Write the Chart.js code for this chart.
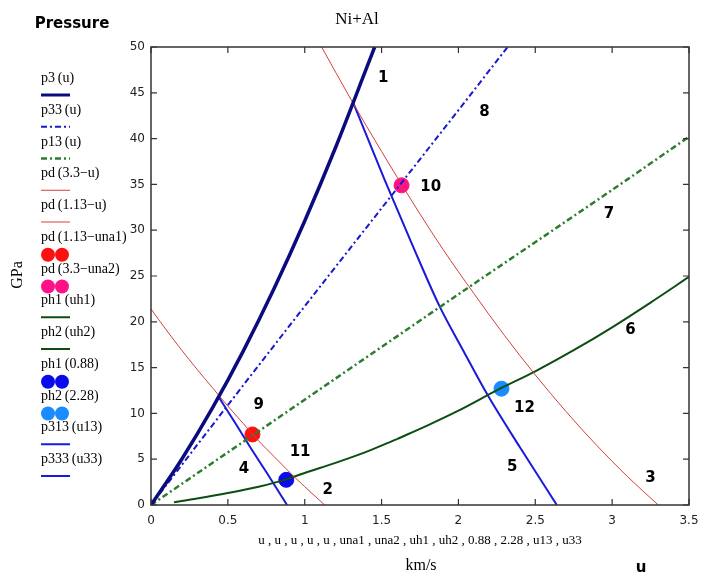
<!DOCTYPE html>
<html>
<head>
<meta charset="utf-8">
<script src="https://cdn.jsdelivr.net/npm/chart.js@4/dist/chart.umd.min.js"></script>
<style>
  html, body { margin: 0; padding: 0; background: #fff; }
  #wrap { width: 701px; height: 574px; position: relative; }
</style>
</head>
<body>
<div id="wrap"><canvas id="chart"></canvas></div>
<script>
// values (u in km/s, p in GPa)
const uP3 = [0, 0.2, 0.4, 0.6, 0.8, 1.0, 1.2, 1.4, 1.455];
const pP3 = [0, 5.0, 10.6, 16.8, 23.6, 31.0, 39.0, 47.6, 50];

const uP33 = [0, 0.5, 1.0, 1.5, 2.0, 2.32];
const pP33 = [0, 10.9, 21.7, 32.4, 43.1, 50];

const uP13 = [0, 1, 2, 3, 3.5];
const pP13 = [0, 11.5, 23, 34.4, 40.2];

const uPd33 = [1.11, 1.3, 1.5, 1.7, 1.9, 2.1, 2.3, 2.5, 2.7, 2.9, 3.1, 3.3];
const pPd33 = [50, 44.3, 38.6, 33.1, 27.9, 23.1, 18.5, 14.2, 10.2, 6.5, 3.1, 0];

const uPd113 = [0, 0.1, 0.2, 0.3, 0.4, 0.5, 0.6, 0.7, 0.8, 0.9, 1.0, 1.13];
const pPd113 = [21.4, 19.1, 16.9, 14.8, 12.8, 10.8, 8.9, 7.0, 5.3, 3.6, 2.0, 0];

const uPh1 = [0.15, 0.3, 0.5, 0.7, 0.88, 1.0, 1.2, 1.4, 1.6];
const pPh1 = [0.3, 0.7, 1.3, 2.0, 2.8, 3.5, 4.6, 5.8, 7.2];

const uPh2 = [1.6, 1.8, 2.0, 2.27, 2.5, 2.75, 3.0, 3.25, 3.5];
const pPh2 = [7.2, 8.7, 10.3, 12.7, 14.6, 16.9, 19.4, 22.1, 24.9];

const u13 = [0.44, 0.55, 0.65, 0.75, 0.885];
const p313 = [11.8, 8.9, 6.2, 3.6, 0];

const u33 = [1.316, 1.52, 1.7, 1.88, 2.03, 2.19, 2.4, 2.64];
const p333 = [43.9, 35.5, 28.4, 21.6, 16.9, 12.0, 6.3, 0];

const una1 = [0.66], pUna1 = [7.7];
const una2 = [1.63], pUna2 = [34.9];
const uDot1 = [0.88], pDot1 = [2.75];
const uDot2 = [2.28], pDot2 = [12.7];

// curve number labels
const noteText = ["1", "2", "3", "4", "5", "6", "7", "8", "9", "10", "11", "12"];
const noteU = [1.51, 1.15, 3.25, 0.605, 2.35, 3.12, 2.98, 2.17, 0.70, 1.82, 0.97, 2.43];
const noteP = [46.6, 1.6, 2.9, 3.9, 4.1, 19.1, 31.8, 42.9, 10.9, 34.7, 5.8, 10.6];

const xTicks = [0, 0.5, 1, 1.5, 2, 2.5, 3, 3.5];
const yTicks = [0, 5, 10, 15, 20, 25, 30, 35, 40, 45, 50];

function pts(xs, ys) {
  return xs.map((x, i) => ({ x: x, y: ys[i] }));
}

const dashDot = [6, 3, 2, 3];

function line(label, xs, ys, color, width, dash) {
  return {
    label: label,
    data: pts(xs, ys),
    showLine: true,
    borderColor: color,
    borderWidth: width,
    borderDash: dash || [],
    pointRadius: 0,
    cubicInterpolationMode: "monotone",
    fill: false,
  };
}

function dot(label, xs, ys, color) {
  return {
    label: label,
    data: pts(xs, ys),
    showLine: false,
    backgroundColor: color,
    borderColor: color,
    pointRadius: 7.5,
    pointHoverRadius: 7.5,
  };
}

const datasets = [
  line("p3\u2009(u)", uP3, pP3, "#0b0b7e", 3.5),
  line("p33\u2009(u)", uP33, pP33, "#1818cc", 2, dashDot),
  line("p13\u2009(u)", uP13, pP13, "#2e7d2e", 2.5, dashDot),
  line("pd\u2009(3.3\u2212u)", uPd33, pPd33, "#d04040", 1),
  line("pd\u2009(1.13\u2212u)", uPd113, pPd113, "#d04040", 1),
  dot("pd\u2009(1.13\u2212una1)", una1, pUna1, "#ff1010"),
  dot("pd\u2009(3.3\u2212una2)", una2, pUna2, "#ff1188"),
  line("ph1\u2009(uh1)", uPh1, pPh1, "#0d4d12", 2),
  line("ph2\u2009(uh2)", uPh2, pPh2, "#0d4d12", 2),
  dot("ph1\u2009(0.88)", uDot1, pDot1, "#0a0aee"),
  dot("ph2\u2009(2.28)", uDot2, pDot2, "#1a8cff"),
  line("p313\u2009(u13)", u13, p313, "#1a1ad8", 2),
  line("p333\u2009(u33)", u33, p333, "#1a1ad8", 2),
];

// frame, inward ticks, legend and loose texts
const decor = {
  id: "decor",
  afterDraw(chart) {
    const ctx = chart.ctx;
    const a = chart.chartArea;
    const xs = chart.scales.x, ys = chart.scales.y;
    ctx.save();

    ctx.strokeStyle = "#333";
    ctx.lineWidth = 1.5;
    ctx.strokeRect(a.left, a.top, a.right - a.left, a.bottom - a.top);

    ctx.lineWidth = 1.2;
    ctx.beginPath();
    xTicks.forEach(v => {
      const x = xs.getPixelForValue(v);
      ctx.moveTo(x, a.top); ctx.lineTo(x, a.top + 6);
      ctx.moveTo(x, a.bottom); ctx.lineTo(x, a.bottom - 6);
    });
    yTicks.forEach(v => {
      const y = ys.getPixelForValue(v);
      ctx.moveTo(a.left, y); ctx.lineTo(a.left + 6, y);
      ctx.moveTo(a.right, y); ctx.lineTo(a.right - 6, y);
    });
    ctx.stroke();

    // curve numbers
    ctx.fillStyle = "#000";
    ctx.font = "bold 15px 'DejaVu Sans'";
    ctx.textAlign = "center";
    ctx.textBaseline = "middle";
    noteText.forEach((t, i) => {
      ctx.fillText(t, xs.getPixelForValue(noteU[i]), ys.getPixelForValue(noteP[i]));
    });

    // title and axis texts
    ctx.font = "17px 'Liberation Serif'";
    ctx.fillText("Ni+Al", 357, 20);
    ctx.font = "bold 15px 'DejaVu Sans'";
    ctx.fillText("Pressure", 72, 24);
    ctx.font = "13px 'Liberation Serif'";
    ctx.fillText("u , u , u , u , u , una1 , una2 , uh1 , uh2 , 0.88 , 2.28 , u13 , u33", 420, 541);
    ctx.font = "16px 'Liberation Serif'";
    ctx.fillText("km/s", 421, 566);
    ctx.font = "bold 15px 'DejaVu Sans'";
    ctx.fillText("u", 641, 568);

    ctx.save();
    ctx.translate(18, 275);
    ctx.rotate(-Math.PI / 2);
    ctx.font = "16px 'Liberation Serif'";
    ctx.fillText("GPa", 0, 0);
    ctx.restore();

    // legend
    ctx.textAlign = "left";
    ctx.textBaseline = "alphabetic";
    chart.data.datasets.forEach((ds, i) => {
      const ty = 82 + i * 31.75;
      ctx.font = "14px 'Liberation Serif'";
      ctx.fillStyle = "#000";
      ctx.fillText(ds.label, 41, ty);
      const sy = ty + 13;
      if (ds.showLine) {
        ctx.strokeStyle = ds.borderColor;
        ctx.lineWidth = Math.min(ds.borderWidth, 3);
        ctx.setLineDash(ds.borderDash);
        ctx.beginPath();
        ctx.moveTo(41, sy); ctx.lineTo(70, sy);
        ctx.stroke();
        ctx.setLineDash([]);
      } else {
        ctx.fillStyle = ds.backgroundColor;
        [48, 62].forEach(cx => {
          ctx.beginPath();
          ctx.arc(cx, sy + 1, 7, 0, Math.PI * 2);
          ctx.fill();
        });
      }
    });

    ctx.restore();
  },
};

new Chart(document.getElementById("chart"), {
  type: "scatter",
  data: { datasets: datasets },
  options: {
    responsive: true,
    maintainAspectRatio: false,
    animation: false,
    layout: { padding: { left: 0, top: 47, right: 12, bottom: 0 } },
    plugins: { legend: { display: false }, tooltip: { enabled: false } },
    scales: {
      x: {
        type: "linear",
        min: 0,
        max: 3.5,
        afterFit: s => { s.height = 69; s.paddingLeft = 0; s.paddingRight = 0; },
        afterBuildTicks: s => { s.ticks = xTicks.map(v => ({ value: v })); },
        grid: { display: false, drawTicks: false },
        border: { display: false },
        ticks: {
          padding: 9,
          color: "#222",
          font: { family: "DejaVu Sans", size: 12 },
          maxRotation: 0,
          callback: v => String(v),
        },
      },
      y: {
        type: "linear",
        min: 0,
        max: 50,
        afterFit: s => { s.width = 151; s.paddingTop = 0; s.paddingBottom = 0; },
        afterBuildTicks: s => { s.ticks = yTicks.map(v => ({ value: v })); },
        grid: { display: false, drawTicks: false },
        border: { display: false },
        ticks: {
          padding: 6,
          color: "#222",
          font: { family: "DejaVu Sans", size: 12 },
        },
      },
    },
  },
  plugins: [decor],
});
</script>
</body>
</html>
